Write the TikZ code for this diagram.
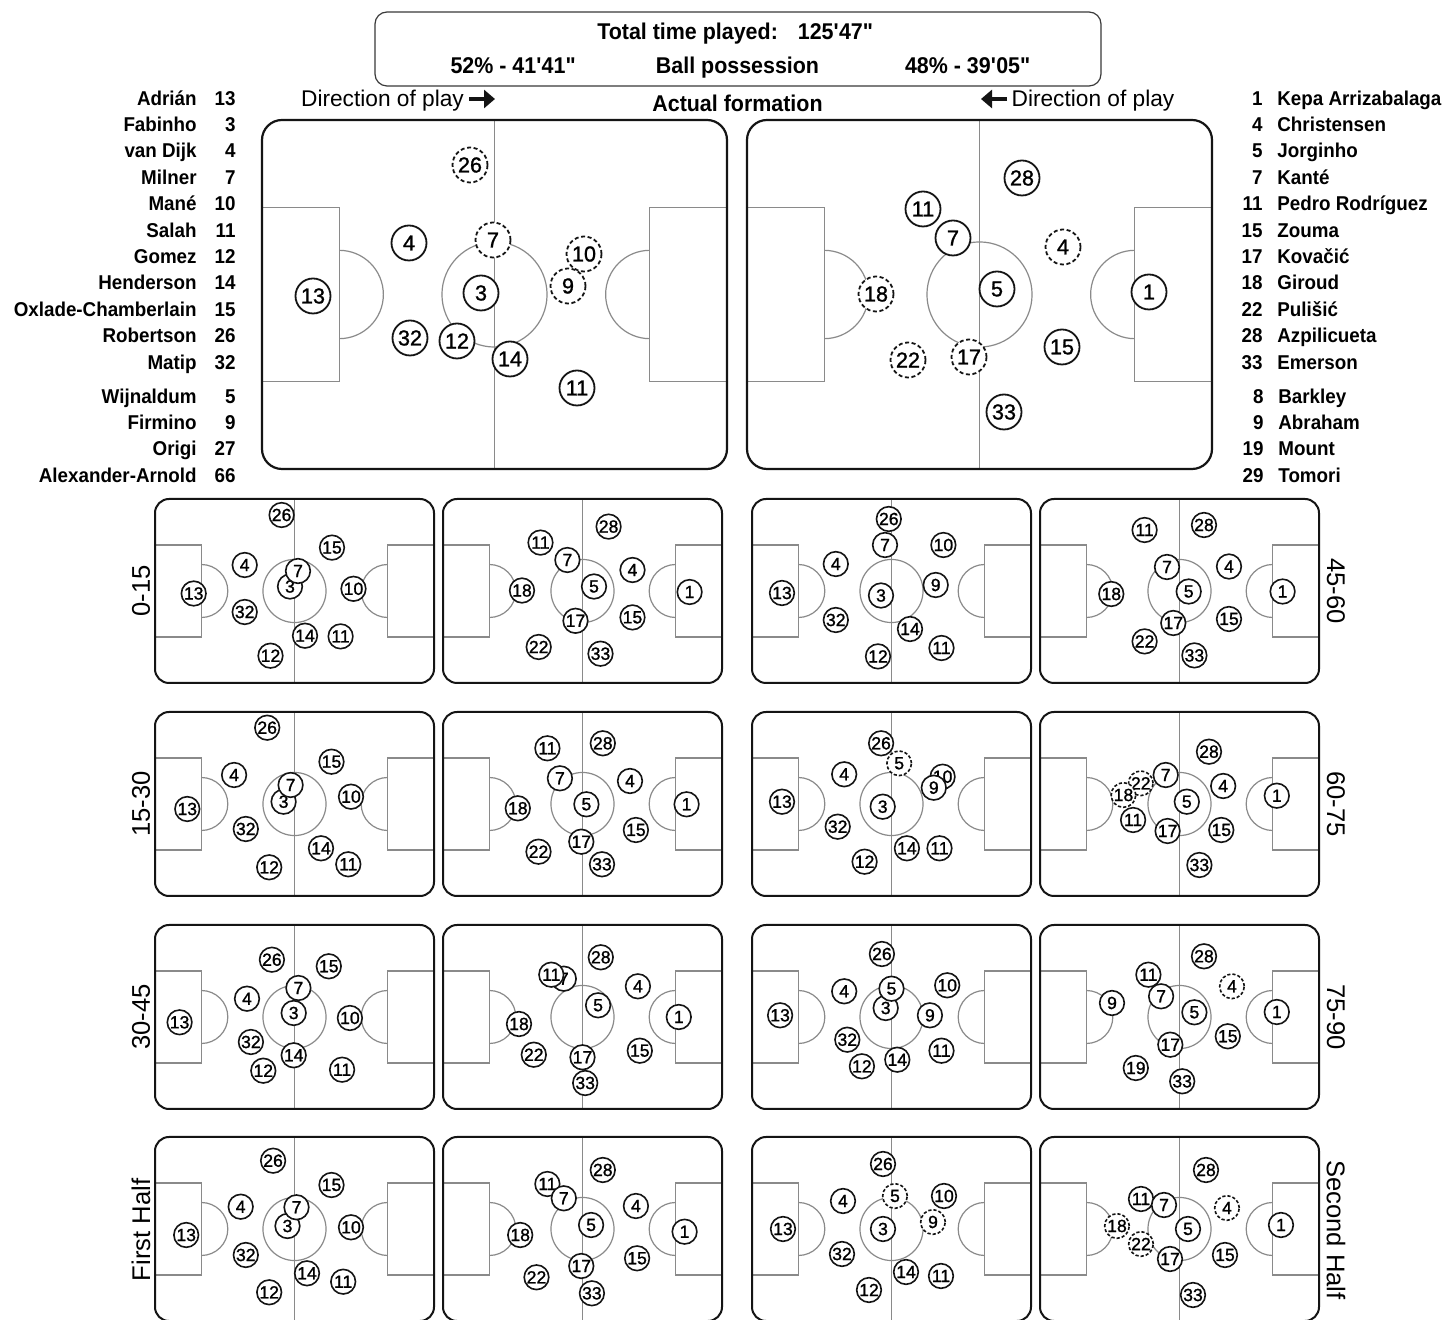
\documentclass[tikz,border=0pt]{standalone}
\usepackage{fontspec}
\setmainfont{Liberation Sans}
\newfontfamily\heavy{Liberation Sans}[FakeStretch=0.94]
\newfontfamily\digits{Liberation Sans}[FakeBold=1.2]
\usetikzlibrary{arrows.meta, positioning, calc}
\definecolor{ink}{HTML}{141414}
\definecolor{markgray}{HTML}{8A8A8A}
\definecolor{rimgray}{HTML}{3A3A3A}

% pitch outline: [rim style]{x}{y}{width}{height}
\newcommand{\pitch}[5][smallrim]{%
  \begin{scope}[shift={(#2,#3)}]
    \draw[markline] (0.5*#4,0) -- (0.5*#4,#5);
    \draw[markline] (0,0.25*#5) rectangle (0.166*#4,0.75*#5);
    \draw[markline] (0.834*#4,0.25*#5) rectangle (#4,0.75*#5);
    \draw[markline] (0.166*#4,0.5*#5-0.095*#4) arc[start angle=-90, end angle=90, radius=0.095*#4];
    \draw[markline] (0.834*#4,0.5*#5-0.095*#4) arc[start angle=270, end angle=90, radius=0.095*#4];
    \draw[markline] (0.5*#4,0.5*#5) circle[radius=0.113*#4];
    \draw[#1] (0,0) rectangle (#4,#5);
  \end{scope}}

% players: {pitch name}{style}{number/x/y list}
\newcommand{\lineup}[3]{%
  \foreach \num/\px/\py in {#3}
    \node[#2] (#1-\num) at (\px,\py) {\num};}

\begin{document}
\begin{tikzpicture}[x=0.5pt, y=-0.5pt,
  markline/.style={draw=markgray, line width=0.6pt},
  bigrim/.style={draw=ink, line width=1.1pt, rounded corners=10pt},
  smallrim/.style={draw=ink, line width=1pt, rounded corners=7pt},
  bigplayer/.style={circle, draw=ink, fill=white, line width=0.9pt,
    minimum size=17.5pt, inner sep=0pt, font=\digits\fontsize{10.8}{12}\selectfont},
  bigsubbed/.style={bigplayer, dash pattern=on 2pt off 1.3pt},
  player/.style={circle, draw=ink, fill=white, line width=0.8pt,
    minimum size=12.3pt, inner sep=0pt, font=\digits\fontsize{8.8}{9}\selectfont},
  subbed/.style={player, dash pattern=on 1.6pt off 1pt},
  roster/.style={font=\heavy\bfseries\fontsize{10}{12}\selectfont, inner sep=0pt},
  heading/.style={font=\heavy\bfseries\fontsize{11.4}{13}\selectfont, inner sep=0pt, anchor=base},
  playlbl/.style={font=\fontsize{11.35}{13}\selectfont, inner sep=0pt, anchor=base},
  period/.style={font=\fontsize{12.8}{14}\selectfont, inner sep=0pt},
  panel/.style={draw=rimgray, line width=0.6pt, rounded corners=6pt,
    minimum width=363pt, minimum height=37pt, inner sep=0pt},
  playdir/.style={-{Triangle[length=5.5pt, width=9pt]}, line width=2.2pt, ink},
]
\useasboundingbox (0,0) rectangle (1448,1320);
\fill[white] (0,0) rectangle (1448,1320);

% Summary box
\node[panel] (summary) at (738,49) {};
\node[heading] (total) at (735.5,40) {Total time played:\hspace{10pt}125\textquotesingle47\textquotedbl};
\node[heading] (possL) at (513.5,74) {52\% - 41\textquotesingle41\textquotedbl};
\node[heading] (possM) at (737.5,74) {Ball possession};
\node[heading] (possR) at (968,74) {48\% - 39\textquotesingle05\textquotedbl};

% Titles above the big pitches
\node[playlbl] (dirL) at (382.5,107) {Direction of play};
\node[playlbl] (dirR) at (1093,107) {Direction of play};
\node[heading] (actual) at (737.5,112) {Actual formation};
\coordinate (arrLa) at (469,99);
\coordinate (arrLb) at (495,99);
\coordinate (arrRa) at (1007,99);
\coordinate (arrRb) at (981,99);
\draw[playdir] (arrLa) -- (arrLb);
\draw[playdir] (arrRa) -- (arrRb);

% Squad lists
\foreach \nm/\no [count=\i from 0] in {Adrián/13, Fabinho/3, van Dijk/4, Milner/7,
    Mané/10, Salah/11, Gomez/12, Henderson/14, Oxlade-Chamberlain/15, Robertson/26, Matip/32} {
  \node[roster, anchor=base east] (lnam\i) at (197,105.2+26.4*\i) {\nm};
  \node[roster, anchor=base east] (lnum\i) at (236,105.2+26.4*\i) {\no};
}
\foreach \nm/\no [count=\i from 0] in {Wijnaldum/5, Firmino/9, Origi/27, Alexander-Arnold/66} {
  \node[roster, anchor=base east] (lbnam\i) at (197,403.2+26.4*\i) {\nm};
  \node[roster, anchor=base east] (lbnum\i) at (236,403.2+26.4*\i) {\no};
}
\foreach \no/\nm [count=\i from 0] in {1/Kepa Arrizabalaga, 4/Christensen, 5/Jorginho, 7/Kanté,
    11/Pedro Rodríguez, 15/Zouma, 17/Kovačić, 18/Giroud, 22/Pulišić, 28/Azpilicueta, 33/Emerson} {
  \node[roster, anchor=base east] (rnum\i) at (1263,105.2+26.4*\i) {\no};
  \node[roster, anchor=base west] (rnam\i) at (1277,105.2+26.4*\i) {\nm};
}
\foreach \no/\nm [count=\i from 0] in {8/Barkley, 9/Abraham, 19/Mount, 29/Tomori} {
  \node[roster, anchor=base east] (rbnum\i) at (1264,403.2+26.4*\i) {\no};
  \node[roster, anchor=base west] (rbnam\i) at (1278,403.2+26.4*\i) {\nm};
}

% Actual formation
\pitch[bigrim]{262}{120}{465}{349}
\pitch[bigrim]{747}{120}{465}{349}
\lineup{home}{bigplayer}{13/313/296, 4/409/243, 3/481/293, 32/410/338, 12/457/341, 14/510/359, 11/577/388}
\lineup{home}{bigsubbed}{26/470/165, 7/493/240, 10/584/254, 9/568/286}
\lineup{away}{bigplayer}{28/1022/178, 11/923/209, 7/953/238, 5/997/289, 1/1149/292, 15/1062/347, 33/1004/412}
\lineup{away}{bigsubbed}{4/1063/247, 18/876/294, 22/908/360, 17/969/357}

% Period pitches
\foreach \cx in {155,443,752,1040}
  \foreach \cy in {499,712,925,1137}
    {\pitch{\cx}{\cy}{279}{184}}

% 0-15 / 45-60
\lineup{p1h}{player}{26/281.6/515, 15/332/547.6, 4/244.7/565, 13/193.7/593.5, 10/353.5/588.8, 32/244.7/612, 3/290/586.5, 7/298/571, 14/305/635.7, 11/340.6/636.4, 12/270.5/655.7}
\lineup{p1a}{player}{28/608.6/526.6, 11/540.5/542.6, 7/567.4/560, 4/632.5/570, 5/594/586.5, 18/522/590.5, 1/689.6/592, 15/632.5/617.4, 17/575.5/620.8, 22/538.7/647, 33/600.5/653.7}
\lineup{p5h}{player}{26/888.8/519, 7/885/545, 10/943.4/545, 4/835.8/564, 9/935.7/585, 13/782/593, 3/881/595.5, 32/835.8/620, 14/910/629, 11/941.5/648, 12/878/656.4}
\lineup{p5a}{player}{11/1144.6/530, 28/1204/525, 7/1167/567, 4/1229/566.5, 18/1111.3/594, 5/1188.7/591.5, 1/1282.6/591.5, 17/1173.3/623, 15/1229/619, 22/1144.6/641.4, 33/1194.4/655.4}

% 15-30 / 60-75
\lineup{p2h}{player}{26/267.2/727.7, 15/331.5/761.7, 4/234.1/775, 3/283.6/801.7, 7/290.6/785, 10/351/796.7, 13/187.3/809, 32/245.8/829, 14/321/848.3, 11/348.3/864.3, 12/269.2/867.3}
\lineup{p2a}{player}{11/547.4/748.3, 28/602.8/743.3, 7/559.9/778.3, 4/630/781, 18/517.8/808.3, 5/586.4/804.3, 1/686.6/804.3, 15/635.9/830, 17/581.3/841.7, 22/538.5/851.7, 33/602/864.3}
\lineup{p6h}{subbed}{5/899.2/763.3}
\lineup{p6h}{player}{26/881.1/743.3, 4/844.2/774.3, 10/942.6/776.7, 9/933.8/787.7, 13/782/801.7, 3/882.7/806.7, 32/837.7/826.7, 14/906.9/848.3, 11/939.5/848.3, 12/864.6/861.7}
\lineup{p6a}{subbed}{22/1140.8/783.3, 18/1123.5/795}
\lineup{p6a}{player}{28/1209/751.7, 7/1165.7/775, 4/1223.2/786, 5/1186.8/801.7, 1/1276.8/795.7, 11/1133.1/820, 17/1167.6/831, 15/1221.3/830, 33/1199.4/865}

% 30-45 / 75-90
\lineup{p3h}{player}{26/271.9/959.7, 15/328.8/966.3, 7/298.4/988, 4/247/998.7, 3/293.7/1013, 10/349.9/1018, 13/179.6/1022.3, 32/250.9/1042, 14/293.7/1055.3, 12/263.3/1070.7, 11/342.1/1069.7}
\lineup{p3a}{player}{28/600.8/957.3, 7/563.8/978.7, 11/551.3/974.7, 4/637.9/986.3, 5/598.1/1005.3, 1/678.8/1017, 18/519/1024, 22/533.8/1054.7, 17/582.5/1057.3, 15/639.8/1050.7, 33/585.2/1083}
\lineup{p7h}{player}{26/881.9/954, 10/947.2/985.3, 4/844.2/991.3, 3/885.7/1008, 5/891.5/988.7, 9/929.9/1015.3, 13/780.1/1015.3, 32/847.3/1039.7, 11/941.5/1050.7, 14/897.3/1059.7, 12/861.9/1066.3}
\lineup{p7a}{subbed}{4/1232/986.3}
\lineup{p7a}{player}{28/1204/956.3, 11/1148.4/974.7, 7/1161.1/996.3, 9/1112/1003, 5/1194.4/1012.3, 1/1276.8/1012, 15/1227.8/1036.3, 17/1170.3/1044.7, 19/1135.8/1068, 33/1182.2/1081.3}

% First half / second half
\lineup{p4h}{player}{26/273.1/1160.7, 15/331.5/1185, 4/240.7/1206.7, 3/287.5/1226, 7/296.5/1207.3, 10/351/1227.3, 13/186.2/1235, 32/245.8/1255, 14/307/1273.3, 11/343.2/1281.7, 12/269.2/1292.3}
\lineup{p4a}{player}{28/602.8/1170, 11/547.4/1184, 7/563.8/1198.3, 4/635.9/1206, 5/591.1/1225, 1/684.6/1231.7, 18/520.2/1235, 15/637.1/1258.3, 17/581.3/1266, 22/536.5/1277.3, 33/591.9/1293.3}
\lineup{p8h}{subbed}{5/895/1196, 9/933/1222}
\lineup{p8h}{player}{26/883/1164, 10/944/1196, 4/843/1201, 3/883/1229, 13/783/1229, 32/842/1254, 14/906/1272, 11/941/1276, 12/869/1290}
\lineup{p8a}{subbed}{4/1227/1208, 18/1117/1226, 22/1141/1244}
\lineup{p8a}{player}{28/1206/1170, 11/1141/1199, 7/1164/1205, 5/1188/1229, 1/1281/1225, 17/1170/1259, 15/1225/1255, 33/1193/1295}

% Period labels
\node[period, rotate=90] (lbl0015) at (141,591) {0-15};
\node[period, rotate=90] (lbl1530) at (141,804) {15-30};
\node[period, rotate=90] (lbl3045) at (141,1017) {30-45};
\node[period, rotate=90] (lblfirst) at (141,1230) {First Half};
\node[period, rotate=-90] (lbl4560) at (1336,591) {45-60};
\node[period, rotate=-90] (lbl6075) at (1336,804) {60-75};
\node[period, rotate=-90] (lbl7590) at (1336,1017) {75-90};
\node[period, rotate=-90] (lblsecond) at (1336,1230) {Second Half};
\end{tikzpicture}
\end{document}
